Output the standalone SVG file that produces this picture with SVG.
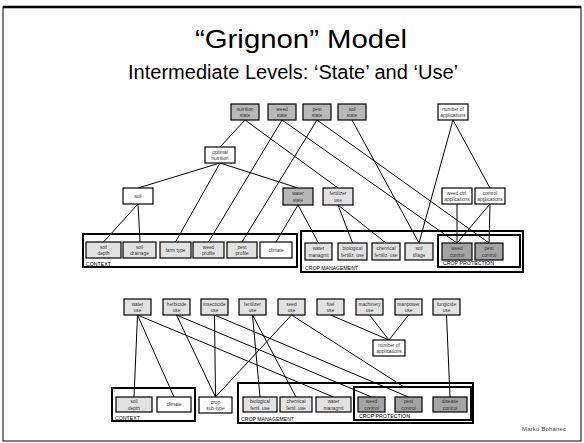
<svg xmlns="http://www.w3.org/2000/svg" width="584" height="443" viewBox="0 0 584 443">
<style>
  text { font-family: "Liberation Sans", Arial, sans-serif; }
  .title { font-size: 25px; fill: #000; text-anchor: middle; }
  .sub { font-size: 20px; fill: #000; text-anchor: middle; }
  .n rect { stroke: #000; stroke-width: 1.2; }
  .n text { font-size: 4.8px; fill: #333; text-anchor: middle; }
  .dark rect { fill: #a4a4a4; }
  .mid rect { fill: #b8b8b8; }
  .light rect { fill: #e2e2e2; }
  .white rect { fill: #fff; }
  .grp { fill: none; stroke: #000; stroke-width: 2; }
  .glabel { font-size: 5.2px; fill: #000; }
  .edges line { stroke: #000; stroke-width: 1; }
</style>

<!-- slide frame -->
<rect x="3" y="7" width="578" height="434" fill="#fff" stroke="#000" stroke-width="1"/>
<line x1="3" y1="7" x2="581" y2="7" stroke="#000" stroke-width="2.5"/>

<text class="title" x="301" y="48" textLength="212" lengthAdjust="spacingAndGlyphs">“Grignon” Model</text>
<text class="sub" x="293" y="79" textLength="330" lengthAdjust="spacingAndGlyphs">Intermediate Levels: ‘State’ and ‘Use’</text>

<!-- group frames (upper model) -->
<g id="context-top">
  <rect class="grp" x="83" y="234" width="214" height="33"/>
  <text class="glabel" x="86" y="265.5" textLength="25" lengthAdjust="spacingAndGlyphs">CONTEXT</text>
</g>
<g id="crop-management-top">
  <rect class="grp" x="301" y="231" width="222" height="41"/>
  <text class="glabel" x="305" y="269.5" textLength="53" lengthAdjust="spacingAndGlyphs">CROP MANAGEMENT</text>
</g>
<g id="crop-protection-top">
  <rect class="grp" x="438" y="235" width="82" height="32"/>
  <text class="glabel" x="443" y="265" textLength="51" lengthAdjust="spacingAndGlyphs">CROP PROTECTION</text>
</g>

<!-- group frames (lower model) -->
<g id="context-bottom">
  <rect class="grp" x="112" y="388" width="83" height="33"/>
  <text class="glabel" x="115" y="419.5" textLength="25" lengthAdjust="spacingAndGlyphs">CONTEXT</text>
</g>
<g id="crop-management-bottom">
  <rect class="grp" x="238" y="383" width="235" height="40"/>
  <text class="glabel" x="241" y="421" textLength="53" lengthAdjust="spacingAndGlyphs">CROP MANAGEMENT</text>
</g>
<g id="crop-protection-bottom">
  <rect class="grp" x="354" y="387" width="117" height="33"/>
  <text class="glabel" x="359" y="418" textLength="51" lengthAdjust="spacingAndGlyphs">CROP PROTECTION</text>
</g>

<!-- connectors -->
<g class="edges" id="connectors">
  <!-- upper model -->
  <line x1="245" y1="120" x2="220" y2="147"/>
  <line x1="245" y1="120" x2="338" y2="188"/>
  <line x1="282" y1="120" x2="208.5" y2="242"/>
  <line x1="282" y1="120" x2="457" y2="243"/>
  <line x1="317" y1="120" x2="242" y2="242"/>
  <line x1="317" y1="120" x2="489" y2="243"/>
  <line x1="352" y1="120" x2="419" y2="243"/>
  <line x1="453" y1="120" x2="419" y2="243"/>
  <line x1="453" y1="120" x2="490" y2="188"/>
  <line x1="220" y1="163" x2="138" y2="188"/>
  <line x1="220" y1="163" x2="175.5" y2="242"/>
  <line x1="220" y1="163" x2="298" y2="188"/>
  <line x1="138" y1="204" x2="103.5" y2="242"/>
  <line x1="138" y1="204" x2="140" y2="242"/>
  <line x1="298" y1="205" x2="276" y2="242"/>
  <line x1="298" y1="205" x2="318.5" y2="243"/>
  <line x1="338" y1="205" x2="352.5" y2="243"/>
  <line x1="338" y1="205" x2="386" y2="243"/>
  <line x1="457" y1="204" x2="457" y2="243"/>
  <line x1="490" y1="204" x2="457" y2="243"/>
  <line x1="490" y1="204" x2="489" y2="243"/>
  <!-- lower model -->
  <line x1="137.5" y1="315" x2="134" y2="397"/>
  <line x1="137.5" y1="315" x2="174" y2="397"/>
  <line x1="137.5" y1="315" x2="333.5" y2="397"/>
  <line x1="176.5" y1="315" x2="215.5" y2="397"/>
  <line x1="176.5" y1="315" x2="371.5" y2="397"/>
  <line x1="214.5" y1="315" x2="215.5" y2="397"/>
  <line x1="214.5" y1="315" x2="408.5" y2="397"/>
  <line x1="252.5" y1="315" x2="260" y2="397"/>
  <line x1="252.5" y1="315" x2="296" y2="397"/>
  <line x1="291.5" y1="315" x2="215.5" y2="397"/>
  <line x1="291.5" y1="315" x2="404" y2="387"/>
  <line x1="330.5" y1="315" x2="389" y2="340"/>
  <line x1="369.5" y1="315" x2="389" y2="340"/>
  <line x1="408.5" y1="315" x2="389" y2="340"/>
  <line x1="446.5" y1="315" x2="450" y2="397"/>
</g>

<!-- upper model: state nodes -->
<g id="nutrition-state" class="n mid"><rect x="231" y="104" width="28" height="16"/><text x="245" y="110.5">nutrition</text><text x="245" y="117">state</text></g>
<g id="weed-state" class="n mid"><rect x="268" y="104" width="28" height="16"/><text x="282" y="110.5">weed</text><text x="282" y="117">state</text></g>
<g id="pest-state" class="n mid"><rect x="303" y="104" width="28" height="16"/><text x="317" y="110.5">pest</text><text x="317" y="117">state</text></g>
<g id="soil-state" class="n mid"><rect x="338" y="104" width="28" height="16"/><text x="352" y="110.5">soil</text><text x="352" y="117">state</text></g>
<g id="number-of-applications-top" class="n white"><rect x="438" y="104" width="30" height="16"/><text x="453" y="110.5">number of</text><text x="453" y="117">applications</text></g>
<g id="optimal-nutrition" class="n white"><rect x="205" y="147" width="30" height="16"/><text x="220" y="153.5">optimal</text><text x="220" y="160">nutrition</text></g>
<g id="soil" class="n white"><rect x="123" y="188" width="30" height="16"/><text x="138" y="197.5">soil</text></g>
<g id="water-state" class="n mid"><rect x="283" y="188" width="30" height="17"/><text x="298" y="194.5">water</text><text x="298" y="201.5">state</text></g>
<g id="fertilizer-use-top" class="n light"><rect x="323" y="188" width="30" height="17"/><text x="338" y="194.5">fertilizer</text><text x="338" y="201.5">use</text></g>
<g id="weed-ctrl-applications" class="n white"><rect x="442" y="188" width="30" height="16"/><text x="457" y="194.5">weed ctrl.</text><text x="457" y="201">applications</text></g>
<g id="control-applications" class="n white"><rect x="475" y="188" width="30" height="16"/><text x="490" y="194.5">control</text><text x="490" y="201">applications</text></g>

<!-- upper model: context -->
<g id="soil-depth-top" class="n light"><rect x="86" y="242" width="35" height="16"/><text x="103.5" y="248.5">soil</text><text x="103.5" y="255">depth</text></g>
<g id="soil-drainage" class="n light"><rect x="123" y="242" width="33" height="16"/><text x="139.5" y="248.5">soil</text><text x="139.5" y="255">drainage</text></g>
<g id="farm-type" class="n light"><rect x="160" y="242" width="31" height="16"/><text x="175.5" y="251.7">farm type</text></g>
<g id="weed-profile" class="n light"><rect x="193" y="242" width="31" height="16"/><text x="208.5" y="248.5">weed</text><text x="208.5" y="255">profile</text></g>
<g id="pest-profile" class="n light"><rect x="227" y="242" width="30" height="16"/><text x="242" y="248.5">pest</text><text x="242" y="255">profile</text></g>
<g id="climate-top" class="n white"><rect x="260" y="242" width="32" height="16"/><text x="276" y="251.7">climate</text></g>

<!-- upper model: crop management -->
<g id="water-managmt-top" class="n light"><rect x="305" y="243" width="27" height="17"/><text x="318.5" y="249.5">water</text><text x="318.5" y="256.5">managmt</text></g>
<g id="biological-fertiliz-use" class="n light"><rect x="338" y="243" width="29" height="17"/><text x="352.5" y="249.5">biological</text><text x="352.5" y="256.5">fertiliz. use</text></g>
<g id="chemical-fertiliz-use" class="n light"><rect x="372" y="243" width="28" height="17"/><text x="386" y="249.5">chemical</text><text x="386" y="256.5">fertiliz. use</text></g>
<g id="soil-tillage" class="n light"><rect x="405" y="243" width="28" height="17"/><text x="419" y="249.5">soil</text><text x="419" y="256.5">tillage</text></g>
<g id="weed-control-top" class="n dark"><rect x="442" y="243" width="30" height="17"/><text x="457" y="249.5">weed</text><text x="457" y="256.5">control</text></g>
<g id="pest-control-top" class="n dark"><rect x="475" y="243" width="28" height="17"/><text x="489" y="249.5">pest</text><text x="489" y="256.5">control</text></g>

<!-- lower model: use nodes -->
<g id="water-use" class="n light"><rect x="124" y="299" width="27" height="16"/><text x="137.5" y="305.5">water</text><text x="137.5" y="312">use</text></g>
<g id="herbicide-use" class="n light"><rect x="163" y="299" width="27" height="16"/><text x="176.5" y="305.5">herbicide</text><text x="176.5" y="312">use</text></g>
<g id="insecticide-use" class="n light"><rect x="201" y="299" width="27" height="16"/><text x="214.5" y="305.5">insecticide</text><text x="214.5" y="312">use</text></g>
<g id="fertilizer-use-bottom" class="n light"><rect x="239" y="299" width="27" height="16"/><text x="252.5" y="305.5">fertilizer</text><text x="252.5" y="312">use</text></g>
<g id="seed-use" class="n light"><rect x="278" y="299" width="27" height="16"/><text x="291.5" y="305.5">seed</text><text x="291.5" y="312">use</text></g>
<g id="fuel-use" class="n light"><rect x="317" y="299" width="27" height="16"/><text x="330.5" y="305.5">fuel</text><text x="330.5" y="312">use</text></g>
<g id="machinery-use" class="n light"><rect x="356" y="299" width="27" height="16"/><text x="369.5" y="305.5">machinery</text><text x="369.5" y="312">use</text></g>
<g id="manpower-use" class="n light"><rect x="395" y="299" width="27" height="16"/><text x="408.5" y="305.5">manpower</text><text x="408.5" y="312">use</text></g>
<g id="fungicide-use" class="n light"><rect x="433" y="299" width="27" height="16"/><text x="446.5" y="305.5">fungicide</text><text x="446.5" y="312">use</text></g>
<g id="number-of-applications-bottom" class="n white"><rect x="373" y="340" width="32" height="16"/><text x="389" y="346.5">number of</text><text x="389" y="353">applications</text></g>

<!-- lower model: basic attributes -->
<g id="soil-depth-bottom" class="n light"><rect x="116" y="397" width="36" height="15"/><text x="134" y="403">soil</text><text x="134" y="409.5">depth</text></g>
<g id="climate-bottom" class="n white"><rect x="157" y="397" width="34" height="15"/><text x="174" y="406.3">climate</text></g>
<g id="crop-sub-type" class="n white"><rect x="199" y="397" width="33" height="16"/><text x="215.5" y="403.5">crop</text><text x="215.5" y="410">sub-type</text></g>
<g id="biological-fertil-use" class="n light"><rect x="243" y="397" width="34" height="15"/><text x="260" y="403">biological</text><text x="260" y="409.5">fertil. use</text></g>
<g id="chemical-fertil-use" class="n light"><rect x="280" y="397" width="32" height="15"/><text x="296" y="403">chemical</text><text x="296" y="409.5">fertil. use</text></g>
<g id="water-managmt-bottom" class="n light"><rect x="316" y="397" width="35" height="15"/><text x="333.5" y="403">water</text><text x="333.5" y="409.5">managmt</text></g>
<g id="weed-control-bottom" class="n dark"><rect x="358" y="397" width="27" height="15"/><text x="371.5" y="403">weed</text><text x="371.5" y="409.5">control</text></g>
<g id="pest-control-bottom" class="n dark"><rect x="395" y="397" width="27" height="15"/><text x="408.5" y="403">pest</text><text x="408.5" y="409.5">control</text></g>
<g id="disease-control" class="n dark"><rect x="433" y="397" width="34" height="15"/><text x="450" y="403">disease</text><text x="450" y="409.5">control</text></g>

<text x="522" y="431" font-size="6" fill="#444" textLength="44" lengthAdjust="spacing">Marko Bohanec</text>
</svg>
